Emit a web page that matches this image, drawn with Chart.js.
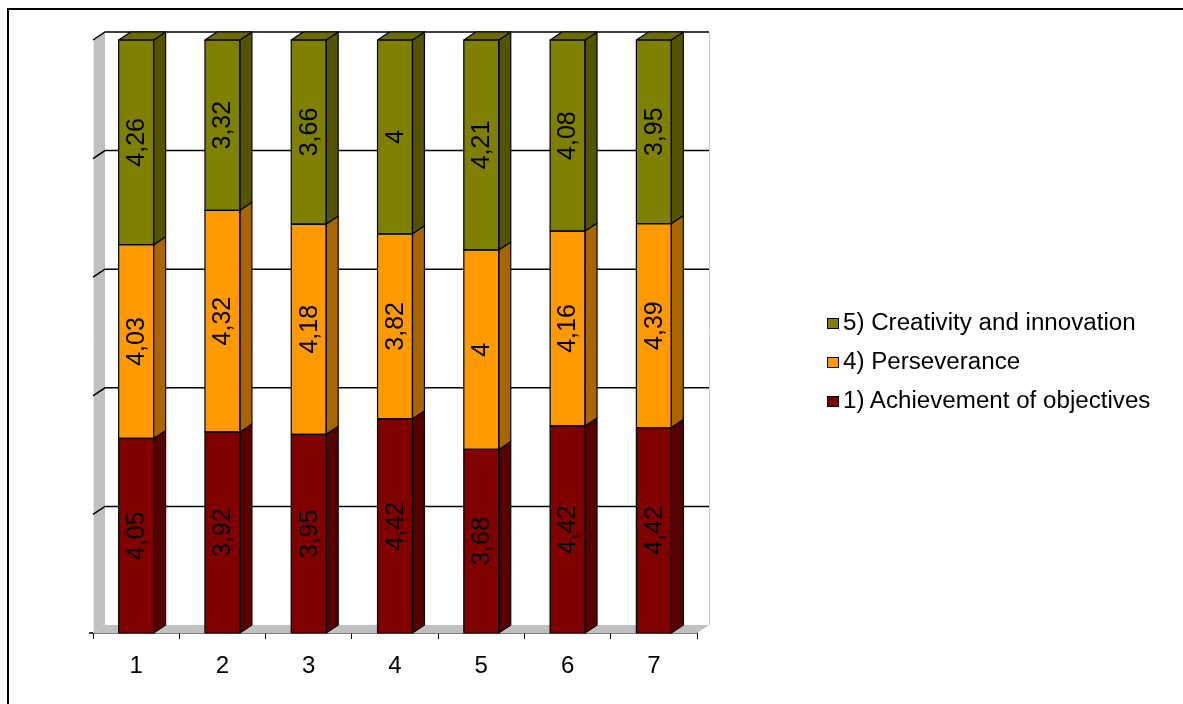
<!DOCTYPE html>
<html>
<head>
<meta charset="utf-8">
<script src="https://cdn.jsdelivr.net/npm/chart.js@4"></script>
<style>
  body { margin: 0; background: #fff; font-family: "Liberation Sans", Arial, sans-serif; }
  #wrap { position: relative; width: 1183px; height: 704px; overflow: hidden; }
  #frame { position: absolute; left: 7px; top: 8px; width: 1300px; height: 800px;
           border-top: 2px solid #000; border-left: 2px solid #000; }
  canvas { position: absolute; left: 0; top: 0; }
  #legend { position: absolute; left: 827px; top: 306px; font-size: 23px; color: #000; }
  .item { height: 39px; line-height: 32px; white-space: nowrap; }
  .box { display: inline-block; width: 10px; height: 9px; border: 1.5px solid #000;
         margin-right: 4px; vertical-align: 1px; }
  .txt { display: inline-block; transform: scaleX(1.05); transform-origin: left center; }
</style>
</head>
<body>
<div id="wrap">
  <div id="frame"></div>
  <canvas id="chart" width="1183" height="704"></canvas>
  <div id="legend"></div>
</div>
<script>
const categories = ["1", "2", "3", "4", "5", "6", "7"];
const seriesNames = ["1) Achievement of objectives", "4) Perseverance", "5) Creativity and innovation"];
const achievement = [4.05, 3.92, 3.95, 4.42, 3.68, 4.42, 4.42];
const perseverance = [4.03, 4.32, 4.18, 3.82, 4, 4.16, 4.39];
const creativity = [4.26, 3.32, 3.66, 4, 4.21, 4.08, 3.95];
const gridValues = [0, 20, 40, 60, 80, 100];

const frontColors = ["#800000", "#ff9900", "#808000"];
const sideColors = ["#560000", "#a86500", "#545400"];
const topColors = ["#6a0000", "#d68000", "#6b6b00"];

const DX = 12, DY = -8;

const raw = [achievement, perseverance, creativity];
const totals = categories.map((c, i) => raw.reduce((s, arr) => s + arr[i], 0));
const pct = raw.map(arr => arr.map((v, i) => v / totals[i] * 100));

// back walls, floor and gridlines behind the columns
const walls = {
  id: "walls",
  beforeDatasetsDraw(chart) {
    const ctx = chart.ctx;
    const a = chart.chartArea;
    const ys = chart.scales.y;
    ctx.save();
    ctx.fillStyle = "#c0c0c0";
    ctx.beginPath();
    ctx.moveTo(a.left, a.top);
    ctx.lineTo(a.left + DX, a.top + DY);
    ctx.lineTo(a.left + DX, a.bottom + DY);
    ctx.lineTo(a.left, a.bottom);
    ctx.closePath();
    ctx.fill();
    ctx.beginPath();
    ctx.moveTo(a.left, a.bottom);
    ctx.lineTo(a.left + DX, a.bottom + DY);
    ctx.lineTo(a.right + DX, a.bottom + DY);
    ctx.lineTo(a.right, a.bottom);
    ctx.closePath();
    ctx.fill();
    ctx.strokeStyle = "#e8e8e8";
    ctx.lineWidth = 1;
    ctx.beginPath();
    ctx.moveTo(a.left + 0.5, a.top);
    ctx.lineTo(a.left + 0.5, a.bottom);
    ctx.stroke();
    ctx.strokeStyle = "#c8c8c8";
    ctx.beginPath();
    ctx.moveTo(a.right + DX + 0.5, a.top + DY);
    ctx.lineTo(a.right + DX + 0.5, a.bottom + DY);
    ctx.stroke();

    ctx.strokeStyle = "#000";
    ctx.lineWidth = 1.5;
    gridValues.forEach(v => {
      if (v === 0) return;
      const y = ys.getPixelForValue(v);
      ctx.beginPath();
      ctx.moveTo(a.left, y);
      ctx.lineTo(a.left + DX, y + DY);
      ctx.lineTo(a.right + DX, y + DY);
      ctx.stroke();
    });
    ctx.beginPath();
    ctx.moveTo(a.left - 4, a.bottom);
    ctx.lineTo(a.left, a.bottom);
    ctx.stroke();
    ctx.restore();
  }
};

// side and top faces + rotated value labels
const depth = {
  id: "depth",
  afterDatasetsDraw(chart) {
    const ctx = chart.ctx;
    const n = chart.data.datasets.length;
    ctx.save();
    ctx.strokeStyle = "#000";
    ctx.lineWidth = 1.2;
    ctx.lineJoin = "round";
    chart.data.datasets.forEach((ds, di) => {
      chart.getDatasetMeta(di).data.forEach(bar => {
        const l = bar.x - bar.width / 2, r = bar.x + bar.width / 2;
        const t = Math.min(bar.y, bar.base), b = Math.max(bar.y, bar.base);
        ctx.fillStyle = sideColors[di];
        ctx.beginPath();
        ctx.moveTo(r, t);
        ctx.lineTo(r + DX, t + DY);
        ctx.lineTo(r + DX, b + DY);
        ctx.lineTo(r, b);
        ctx.closePath();
        ctx.fill();
        ctx.stroke();
        if (di === n - 1) {
          ctx.fillStyle = topColors[di];
          ctx.beginPath();
          ctx.moveTo(l, t);
          ctx.lineTo(l + DX, t + DY);
          ctx.lineTo(r + DX, t + DY);
          ctx.lineTo(r, t);
          ctx.closePath();
          ctx.fill();
          ctx.stroke();
        }
        // crisp outline of the front face
        ctx.strokeRect(l, t, r - l, b - t);
      });
    });
    ctx.fillStyle = "#000";
    ctx.font = '25px "Liberation Sans", Arial, sans-serif';
    ctx.textAlign = "center";
    ctx.textBaseline = "middle";
    chart.data.datasets.forEach((ds, di) => {
      chart.getDatasetMeta(di).data.forEach((bar, i) => {
        const t = Math.min(bar.y, bar.base), b = Math.max(bar.y, bar.base);
        ctx.save();
        ctx.translate(bar.x + 1, (t + b) / 2);
        ctx.rotate(-Math.PI / 2);
        ctx.fillText(String(raw[di][i]).replace(".", ","), 0, 0);
        ctx.restore();
      });
    });
    ctx.restore();
  }
};

new Chart(document.getElementById("chart"), {
  type: "bar",
  data: {
    labels: categories,
    datasets: seriesNames.map((name, i) => ({
      label: name,
      data: pct[i],
      backgroundColor: frontColors[i],
      borderColor: "#000",
      borderWidth: 0,
      categoryPercentage: 1,
      barPercentage: 0.405
    }))
  },
  options: {
    responsive: false,
    animation: false,
    layout: { padding: { left: 93, right: 486, top: 40, bottom: 0 } },
    plugins: { legend: { display: false }, tooltip: { enabled: false } },
    scales: {
      x: {
        stacked: true,
        afterFit(s) { s.height = 71; },
        grid: { display: true, drawOnChartArea: false, offset: true, tickLength: 6, color: "#000", lineWidth: 1 },
        border: { display: true, color: "#000", width: 1.5 },
        ticks: { color: "#000", padding: 13, font: { family: '"Liberation Sans", Arial, sans-serif', size: 24 } }
      },
      y: { stacked: true, display: false, min: 0, max: 100 }
    }
  },
  plugins: [walls, depth]
});

const legend = document.getElementById("legend");
[2, 1, 0].forEach(i => {
  const row = document.createElement("div");
  row.className = "item";
  row.innerHTML = `<span class="box" style="background:${frontColors[i]}"></span><span class="txt">${seriesNames[i]}</span>`;
  legend.appendChild(row);
});
</script>
</body>
</html>
